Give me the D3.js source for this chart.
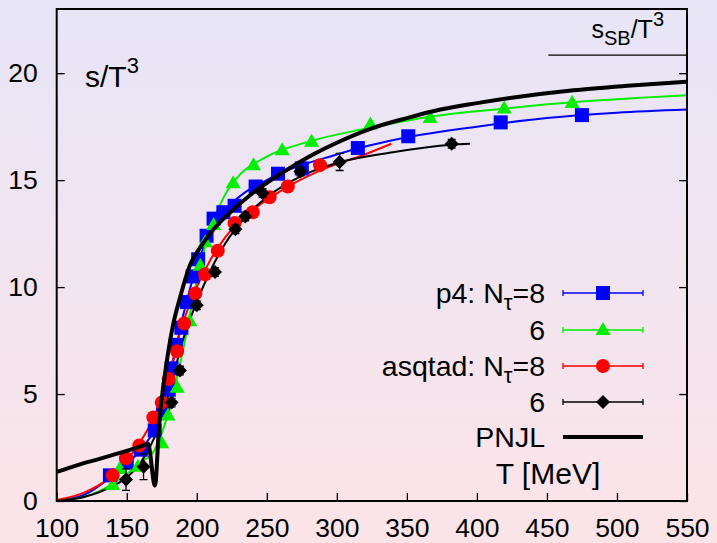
<!DOCTYPE html>
<html>
<head>
<meta charset="utf-8">
<script src="https://cdn.jsdelivr.net/npm/d3@7/dist/d3.min.js"></script>
<style>
  html, body { margin: 0; padding: 0; }
  body { width: 717px; height: 543px; overflow: hidden; }
  svg { display: block; font-family: "Liberation Sans", Arial, Helvetica, sans-serif; }
</style>
</head>
<body>
<svg id="chart" width="717" height="543"></svg>
<script>
// ---------------- data ----------------
const xTicks = [100, 150, 200, 250, 300, 350, 400, 450, 500, 550];
const yTicks = [0, 5, 10, 15, 20];

// p4 action, N_tau = 8 (blue squares)
const p4N8T = [138, 150, 160, 170, 176, 180, 182, 185, 189, 193, 197, 201, 207, 212, 219, 227, 242, 258, 275, 315, 351, 417, 475];
const p4N8S = [1.2, 1.8, 2.4, 3.3, 4.2, 5.2, 6.2, 7.3, 8.1, 9.3, 10.5, 11.3, 12.4, 13.2, 13.5, 13.8, 14.7, 15.3, 15.55, 16.5, 17.05, 17.7, 18.04];
const p4N8FitT = [100, 120, 140, 160, 170, 180, 190, 200, 210, 225, 250, 300, 350, 400, 450, 500, 550];
const p4N8FitS = [0.02, 0.3, 1.2, 2.4, 3.4, 5.6, 8.6, 11.0, 12.6, 13.9, 15.0, 16.2, 17.0, 17.5, 17.9, 18.15, 18.3];

// p4 action, N_tau = 6 (green triangles)
const p4N6T = [140, 145, 158, 175, 179.5, 186, 195, 202.5, 206, 212, 226, 240.5, 261, 282, 324, 366.6, 419.5, 468];
const p4N6S = [0.75, 1.5, 1.6, 2.7, 4.0, 5.3, 8.4, 11.0, 12.1, 12.9, 14.85, 15.7, 16.4, 16.8, 17.6, 17.9, 18.35, 18.6];
const p4N6FitT = [100, 120, 140, 160, 170, 180, 190, 200, 210, 220, 230, 250, 280, 320, 370, 420, 470, 550];
const p4N6FitS = [0.02, 0.2, 0.8, 1.8, 2.4, 4.2, 7.0, 10.3, 12.8, 14.3, 15.2, 16.1, 16.8, 17.4, 18.0, 18.35, 18.65, 18.97];

// asqtad action, N_tau = 8 (red circles)
const asN8T = [140, 149.5, 159, 169, 175, 180, 186, 191, 199, 206, 215, 227, 240, 252, 265, 288];
const asN8S = [1.2, 2.0, 2.6, 3.9, 4.6, 5.7, 7.0, 8.3, 9.7, 10.6, 11.7, 13.0, 13.5, 14.2, 14.7, 15.7];
const asN8FitT = [100, 120, 140, 150, 160, 170, 180, 190, 200, 210, 220, 240, 260, 290, 320, 339];
const asN8FitS = [0.05, 0.4, 1.2, 1.9, 2.8, 4.0, 5.9, 8.3, 10.0, 11.3, 12.3, 13.6, 14.5, 15.5, 16.2, 16.7];

// asqtad action, N_tau = 6 (black diamonds)
const asN6T = [149.5, 162, 182, 188, 200, 213, 227.6, 234.6, 247, 274, 302, 382];
const asN6S = [1.0, 1.6, 4.6, 6.1, 9.15, 10.7, 12.7, 13.3, 14.4, 15.4, 15.85, 16.7];
const asN6Err = [0.5, 0.6, 0.2, 0.2, 0.2, 0.2, 0.2, 0.2, 0.2, 0.2, 0.4, 0.2];
const asN6FitT = [100, 120, 140, 150, 160, 170, 180, 190, 200, 210, 220, 235, 250, 275, 300, 340, 382, 395];
const asN6FitS = [0.0, 0.2, 0.7, 1.1, 1.8, 3.0, 5.0, 7.5, 9.3, 10.8, 12.0, 13.3, 14.2, 15.2, 15.8, 16.3, 16.65, 16.7];

// PNJL model
const pnjlT = [100, 115, 130, 145, 155, 162, 165.2, 166.8, 168, 169.2, 170, 170.8, 171.6, 172.5, 174, 176, 179, 183, 188, 195, 203, 212, 224, 240, 260, 283, 300, 324, 350, 374, 400, 425, 469, 510, 550];
const pnjlS = [1.36, 1.68, 1.96, 2.25, 2.45, 2.6, 2.68, 2.2, 1.5, 0.9, 0.72, 0.95, 1.8, 2.9, 4.2, 5.3, 6.7, 8.2, 9.5, 11.0, 11.9, 12.7, 13.5, 14.4, 15.3, 16.2, 16.75, 17.4, 17.9, 18.3, 18.6, 18.85, 19.2, 19.42, 19.6];

// Stefan-Boltzmann limit
const sbValue = 20.84;
const sbRange = [451, 550];

const legendLabels = ["p4: N|τ|=8", "6", "asqtad: N|τ|=8", "6", "PNJL"];
const xTitle = "T [MeV]";

// ---------------- drawing ----------------
const W = 717, H = 543;
const svg = d3.select("#chart");

const defs = svg.append("defs");
const grad = defs.append("linearGradient").attr("id", "bg").attr("x1", 0).attr("y1", 0).attr("x2", 0).attr("y2", 1);
grad.append("stop").attr("offset", "0%").attr("stop-color", "#e7e5f7");
grad.append("stop").attr("offset", "100%").attr("stop-color", "#fce4e8");
svg.append("rect").attr("width", W).attr("height", H).attr("fill", "url(#bg)");

const L = 56.7, R = 687, T = 9, B = 501;
const x = d3.scaleLinear().domain([100, 550]).range([L, R]);
const y = d3.scaleLinear().domain([0, 23]).range([B, T]);

defs.append("clipPath").attr("id", "clip").append("rect")
  .attr("x", L).attr("y", T).attr("width", R - L).attr("height", B - T);

// axes
const fs = 26.5;
const xAxis = svg.append("g").attr("transform", `translate(0,${B})`)
  .call(d3.axisBottom(x).tickValues(xTicks).tickSizeInner(-8).tickSizeOuter(0).tickPadding(17).tickFormat(d3.format("d")));
const yAxis = svg.append("g").attr("transform", `translate(${L},0)`)
  .call(d3.axisLeft(y).tickValues(yTicks).tickSizeInner(-8).tickSizeOuter(0).tickPadding(19).tickFormat(d3.format("d")));
const yAxisR = svg.append("g").attr("transform", `translate(${R},0)`)
  .call(d3.axisRight(y).tickValues(yTicks).tickSizeInner(-8).tickSizeOuter(0).tickFormat(""));
[xAxis, yAxis, yAxisR].forEach(g => {
  g.select(".domain").remove();
  g.selectAll(".tick line").attr("stroke", "#000").attr("stroke-width", 1.3);
  g.selectAll(".tick text").attr("font-size", fs).attr("fill", "#000")
    .attr("font-family", "Liberation Sans, Arial, sans-serif");
});

const plot = svg.append("g").attr("clip-path", "url(#clip)");

const line = d3.line().x(d => x(d[0])).y(d => y(d[1])).curve(d3.curveMonotoneX);
const zip = (a, b) => a.map((v, i) => [v, b[i]]);

const series = [
  { t: p4N8T, s: p4N8S, ft: p4N8FitT, fs: p4N8FitS, color: "#0000ff", shape: "square" },
  { t: p4N6T, s: p4N6S, ft: p4N6FitT, fs: p4N6FitS, color: "#00ee00", shape: "triangle" },
  { t: asN8T, s: asN8S, ft: asN8FitT, fs: asN8FitS, color: "#ff0000", shape: "circle" },
  { t: asN6T, s: asN6S, ft: asN6FitT, fs: asN6FitS, color: "#000000", shape: "diamond", err: asN6Err },
];

function marker(g, shape, color, cx, cy) {
  if (shape === "square") {
    g.append("rect").attr("x", cx - 7).attr("y", cy - 7).attr("width", 14).attr("height", 14).attr("fill", color);
  } else if (shape === "triangle") {
    g.append("path").attr("d", `M${cx},${cy - 8}L${cx + 7.5},${cy + 5}L${cx - 7.5},${cy + 5}Z`).attr("fill", color);
  } else if (shape === "circle") {
    g.append("circle").attr("cx", cx).attr("cy", cy).attr("r", 7).attr("fill", color);
  } else if (shape === "diamond") {
    g.append("path").attr("d", `M${cx},${cy - 7}L${cx + 7},${cy}L${cx},${cy + 7}L${cx - 7},${cy}Z`).attr("fill", color);
  }
}

series.forEach(sr => {
  plot.append("path").datum(zip(sr.ft, sr.fs)).attr("d", line)
    .attr("fill", "none").attr("stroke", sr.color).attr("stroke-width", 2);
});
series.forEach(sr => {
  const g = plot.append("g");
  sr.t.forEach((tv, i) => {
    const cx = x(tv), cy = y(sr.s[i]);
    if (sr.err) {
      const e = sr.err[i];
      const y1 = y(sr.s[i] - e), y2 = y(sr.s[i] + e);
      g.append("line").attr("x1", cx).attr("x2", cx).attr("y1", y1).attr("y2", y2).attr("stroke", sr.color).attr("stroke-width", 1.3);
      [y1, y2].forEach(yy => g.append("line").attr("x1", cx - 4).attr("x2", cx + 4).attr("y1", yy).attr("y2", yy).attr("stroke", sr.color).attr("stroke-width", 1.3));
    }
    marker(g, sr.shape, sr.color, cx, cy);
  });
});

// PNJL
plot.append("path").datum(zip(pnjlT, pnjlS)).attr("d", line)
  .attr("fill", "none").attr("stroke", "#000").attr("stroke-width", 4).attr("stroke-linejoin", "round");

// SB limit
svg.append("line").attr("x1", x(sbRange[0])).attr("x2", x(sbRange[1]))
  .attr("y1", y(sbValue)).attr("y2", y(sbValue)).attr("stroke", "#000").attr("stroke-width", 1.3);

// frame
svg.append("rect").attr("x", L).attr("y", T).attr("width", R - L).attr("height", B - T)
  .attr("fill", "none").attr("stroke", "#000").attr("stroke-width", 2);

// labels
const ylab = svg.append("text").attr("x", 85).attr("y", 87).attr("font-size", 30).attr("fill", "#000");
ylab.append("tspan").text("s/T");
ylab.append("tspan").attr("dy", -14).attr("font-size", 22).text("3");

const sbl = svg.append("text").attr("x", 664).attr("y", 38).attr("font-size", 25).attr("text-anchor", "end").attr("fill", "#000");
sbl.append("tspan").text("s");
sbl.append("tspan").attr("dy", 7).attr("font-size", 20).text("SB");
sbl.append("tspan").attr("dy", -7).text("/T");
sbl.append("tspan").attr("dy", -12).attr("font-size", 20).text("3");

// legend
const legRows = [293, 330, 366, 402, 437];
const legText = 545, legX1 = 563, legX2 = 643, legM = 603;
legendLabels.forEach((lab, i) => {
  const yy = legRows[i];
  const t = svg.append("text").attr("x", legText).attr("y", yy + 10).attr("text-anchor", "end")
    .attr("font-size", 28.5).attr("fill", "#000");
  const parts = lab.split("|");
  if (parts.length === 3) {
    t.append("tspan").text(parts[0]);
    t.append("tspan").attr("dy", 7).attr("font-size", 22).text(parts[1]);
    t.append("tspan").attr("dy", -7).text(parts[2]);
  } else {
    t.text(lab);
  }
  if (i < series.length) {
    const c = series[i].color;
    svg.append("line").attr("x1", legX1).attr("x2", legX2).attr("y1", yy).attr("y2", yy).attr("stroke", c).attr("stroke-width", 1.3);
    [legX1, legX2].forEach(xx => svg.append("line").attr("x1", xx).attr("x2", xx).attr("y1", yy - 3).attr("y2", yy + 3).attr("stroke", c).attr("stroke-width", 1.3));
    marker(svg, series[i].shape, c, legM, yy);
  } else {
    svg.append("line").attr("x1", legX1).attr("x2", legX2).attr("y1", yy).attr("y2", yy).attr("stroke", "#000").attr("stroke-width", 4);
  }
});
svg.append("text").attr("x", 548).attr("y", 484).attr("text-anchor", "middle").attr("font-size", 30).attr("fill", "#000").text(xTitle);
</script>
</body>
</html>
